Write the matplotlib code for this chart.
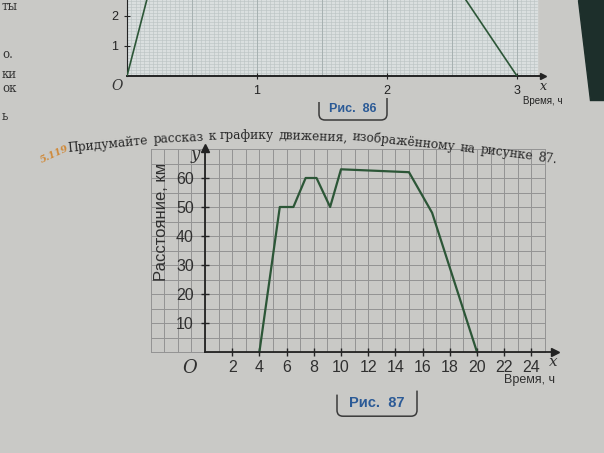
import numpy as np
import matplotlib
matplotlib.use('Agg')
import matplotlib.pyplot as plt
from matplotlib.path import Path
from matplotlib.patches import PathPatch, Polygon

# Рис. 87: движение (время, ч -> расстояние, км)
hours = [4, 5.5, 6.5, 7.4, 8.2, 9.2, 10, 15, 16.7, 20]
distance = [0, 50, 50, 60, 60, 50, 63, 62, 48, 0]
x_ticks = [2, 4, 6, 8, 10, 12, 14, 16, 18, 20, 22, 24]
y_ticks = [10, 20, 30, 40, 50, 60]

# Рис. 86 (видна только нижняя часть)
fig86_left_t = [0, 0.18]
fig86_left_s = [0, 3.0]
fig86_right_t = [2.55, 3]
fig86_right_s = [2.9, 0]
fig86_x_ticks = [1, 2, 3]
fig86_y_ticks = [1, 2]

task_number = '5.119'
task_text = 'Придумайте рассказ к графику движения, изображённому на рисунке 87.'

PAGE = '#c9c9c6'
GRID = '#939393'
LINE = '#2c5637'
INK = '#232323'
BLUE = '#2b5a96'

plt.rcParams['font.family'] = ['Liberation Sans', 'DejaVu Sans']

W, H = 604, 453
fig = plt.figure(figsize=(W / 100, H / 100), dpi=100)
fig.patch.set_facecolor(PAGE)


def px_box(x0, y0, x1, y1):
    # pixel box (top-left origin) -> figure fraction rect
    return [x0 / W, 1 - y1 / H, (x1 - x0) / W, (y1 - y0) / H]


# ---------- Рис. 86 ----------
AX0_Y = 76
ax0 = fig.add_axes(px_box(127, 0, 127 + 3.25 * 130, AX0_Y))
ax0.set_xlim(0, 3.25)
ax0.set_ylim(0, AX0_Y / 30)
ax0.patch.set_alpha(0)
ax0.fill_between([0, 3.15], 0, 5, color='#dadfdf', zorder=0)
for v in np.arange(0, 3.15, 1 / 30):
    ax0.plot([v, v], [0, 5], color='#b9c2c2', lw=0.4, zorder=1)
for v in np.arange(0, 5, 0.1):
    ax0.plot([0, 3.15], [v, v], color='#b9c2c2', lw=0.4, zorder=1)
for v in np.arange(0, 3.15, 0.5):
    ax0.plot([v, v], [0, 5], color='#a3adad', lw=0.6, zorder=1)
ax0.plot(fig86_left_t, fig86_left_s, color=LINE, lw=1.2, zorder=3)
ax0.plot(fig86_right_t, fig86_right_s, color=LINE, lw=1.2, zorder=3)
for s in ['top', 'right']:
    ax0.spines[s].set_visible(False)
ax0.spines['left'].set_color(INK)
ax0.spines['bottom'].set_color(INK)
ax0.spines['bottom'].set_linewidth(1.4)
ax0.spines['bottom'].set_bounds(0, 3.2)
ax0.plot(3.2, 0, '>', color=INK, ms=5, clip_on=False, zorder=4)
ax0.set_xticks(fig86_x_ticks)
ax0.set_yticks(fig86_y_ticks)
ax0.tick_params(direction='inout', length=5, width=0.8, colors=INK,
                labelsize=9, pad=4)
ax0.text(-0.03, -0.1, 'O', ha='right', va='top', fontsize=10, style='italic',
         family='DejaVu Serif', color='#333333')
ax0.text(3.2, -0.12, 'x', ha='center', va='top', fontsize=9, style='italic',
         family='DejaVu Serif', color=INK)
ax0.text(3.2, -0.65, 'Время, ч', ha='center', va='top', fontsize=7, color=INK)

# ---------- Рис. 87 ----------
ax = fig.add_axes(px_box(205 - 4.5 * 13.6, 352 - 72 * 2.9,
                         205 + 26.5 * 13.6, 352 + 2 * 2.9))
ax.set_xlim(-4.5, 26.5)
ax.set_ylim(-2, 72)
ax.patch.set_alpha(0)
for v in range(-4, 26):
    ax.plot([v, v], [0, 70], color=GRID, lw=0.7, zorder=1)
for v in range(0, 71, 5):
    ax.plot([-4, 25], [v, v], color=GRID, lw=0.7, zorder=1)

ax.plot(hours, distance, color=LINE, lw=1.6, zorder=3)

for s in ['top', 'right']:
    ax.spines[s].set_visible(False)
ax.spines['left'].set_position(('data', 0))
ax.spines['bottom'].set_position(('data', 0))
ax.spines['left'].set_bounds(0, 70.5)
ax.spines['bottom'].set_bounds(0, 25.7)
for s in ['left', 'bottom']:
    ax.spines[s].set_color(INK)
    ax.spines[s].set_linewidth(1.3)
    ax.spines[s].set_zorder(4)
ax.plot(25.7, 0, '>', color=INK, ms=6, clip_on=False, zorder=5)
ax.plot(0, 70.5, '^', color=INK, ms=6, clip_on=False, zorder=5)

ax.set_xticks(x_ticks)
ax.set_yticks(y_ticks)
ax.tick_params(axis='x', direction='inout', length=6, width=1, colors=INK,
               labelsize=11.5, pad=3)
ax.tick_params(axis='y', direction='inout', length=6, width=1, colors=INK,
               labelsize=11.5, pad=5)
for lab in ax.get_xticklabels() + ax.get_yticklabels():
    lab.set_color('#303030')

ax.text(-0.6, -2.5, 'O', ha='right', va='top', fontsize=13, style='italic',
        family='DejaVu Serif', color='#303030')
ax.text(-0.4, 68, 'y', ha='right', va='center', fontsize=12, style='italic',
        family='DejaVu Serif', color='#303030')
ax.text(25.6, -1.2, 'x', ha='center', va='top', fontsize=11, style='italic',
        family='DejaVu Serif', color='#303030')
ax.text(25.7, -7.6, 'Время, ч', ha='right', va='top', fontsize=9,
        color='#303030')
ax.text(-3.2, 45, 'Расстояние, км', rotation=90, ha='center', va='center',
        fontsize=12, color='#303030')

# ---------- тексты страницы ----------
fig.text(55 / W, 1 - 154 / H, task_number, fontsize=7, color='#d08a3a',
         rotation=25, ha='center', va='center', family='DejaVu Serif',
         style='italic', fontweight='bold')

# строка задания изогнута вместе со страницей: слова по кривой
bend_x = [60, 90, 160, 230, 300, 380, 460, 560]
bend_y = [152, 146, 139, 136, 136, 139, 147, 160]
renderer = fig.canvas.get_renderer()
cursor = 68
for word in task_text.split(' '):
    t = fig.text(0, 0, word, fontsize=8.8, color='#2a2a2a',
                 family='DejaVu Serif', ha='center', va='center')
    w = t.get_window_extent(renderer).width
    cx = cursor + w / 2
    cy = np.interp(cx, bend_x, bend_y)
    slope = (np.interp(cx + 5, bend_x, bend_y) -
             np.interp(cx - 5, bend_x, bend_y)) / 10
    t.set_position((cx / W, 1 - cy / H))
    t.set_rotation(-np.degrees(np.arctan(slope)))
    cursor += w + 4.5

for txt, y in [('ты', 7), ('о.', 55), ('ки', 75), ('ок', 88), ('ь', 117)]:
    fig.text(2 / W, 1 - y / H, txt, fontsize=8.5, color='#333333',
             ha='left', va='center', family='DejaVu Serif')


def caption(text, cx, cy, half_w, depth, size):
    fig.text(cx / W, 1 - cy / H, text, fontsize=size, color=BLUE,
             fontweight='bold', ha='center', va='center')
    x0, x1 = cx - half_w, cx + half_w
    top, bot = cy - depth * 0.35, cy + depth * 0.55
    r = 6
    verts = [(x0, top), (x0, bot - r), (x0, bot), (x0 + r, bot),
             (x1 - r, bot), (x1, bot), (x1, bot - r), (x1, top - 4)]
    codes = [Path.MOVETO, Path.LINETO, Path.CURVE3, Path.CURVE3,
             Path.LINETO, Path.CURVE3, Path.CURVE3, Path.LINETO]
    verts = [(vx / W, 1 - vy / H) for vx, vy in verts]
    fig.patches.append(PathPatch(Path(verts, codes), transform=fig.transFigure,
                                 fill=False, edgecolor='#3a3a3a', lw=1.1))


caption('Рис.  87', 377, 403, 40, 24, 10.5)
caption('Рис.  86', 353, 109, 34, 20, 9)

# тёмный край книги справа вверху
fig.patches.append(Polygon([(578 / W, 1), (1, 1), (1, 1 - 100 / H),
                            (590 / W, 1 - 100 / H)], closed=True,
                           transform=fig.transFigure, color='#1d2f2b'))

fig.savefig('out.png', dpi=100, facecolor=fig.get_facecolor())
